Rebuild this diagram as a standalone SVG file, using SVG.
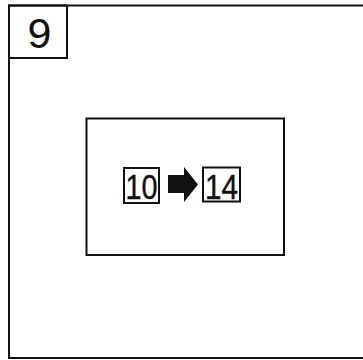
<svg xmlns="http://www.w3.org/2000/svg" width="363" height="360" viewBox="0 0 363 360">
<style>
.ln{fill:none;stroke:#111;stroke-width:2}
.t{font-family:"Liberation Sans",Arial,sans-serif;fill:#111}
.b{stroke:#111;stroke-width:0.4}
</style>
<rect width="363" height="360" fill="#fff"/>
<g id="frame">
<path class="ln" d="M364 5.5 H9 V358 H364" stroke-width="2.2"/>
</g>
<g id="label9">
<rect class="ln" x="9" y="5.5" width="58" height="52.5"/>
<text class="t" x="39.5" y="47.5" font-size="43" text-anchor="middle">9</text>
</g>
<g id="panel">
<rect class="ln" x="86.5" y="118.5" width="197.5" height="136.5"/>
</g>
<g id="n10">
<rect class="ln" x="124" y="168" width="35" height="35"/>
<text class="t b" x="141.5" y="199" font-size="35" text-anchor="middle" textLength="32" lengthAdjust="spacingAndGlyphs">10</text>
</g>
<g id="connectors">
<polygon points="168,175 184,175 184,167 198,184.5 184,202 184,193 168,193" fill="#111"/>
</g>
<g id="n14">
<rect class="ln" x="203" y="167.5" width="37" height="34"/>
<text class="t b" x="221.5" y="198.5" font-size="35" text-anchor="middle" textLength="33" lengthAdjust="spacingAndGlyphs">14</text>
</g>
</svg>
